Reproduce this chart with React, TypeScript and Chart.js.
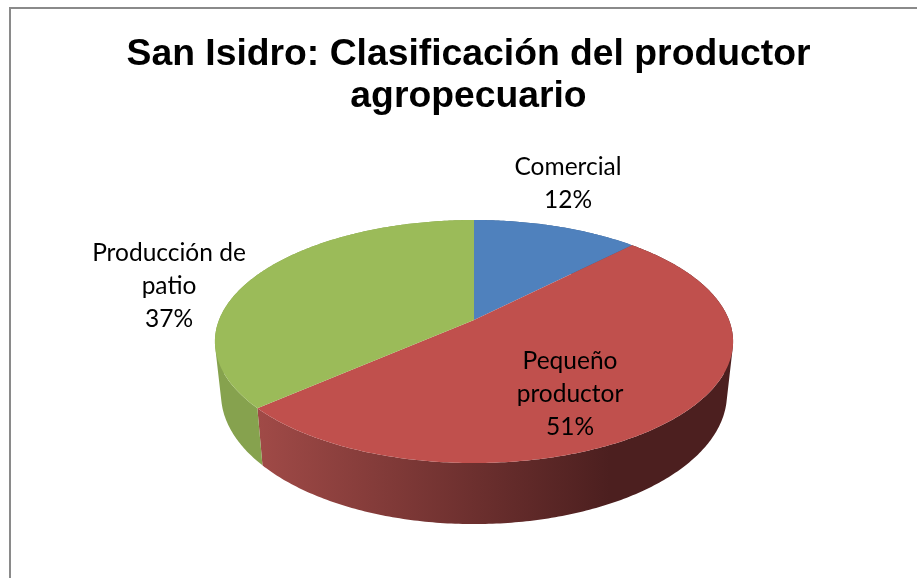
import React, { useEffect, useRef } from "react";
import { Chart, registerables } from "chart.js";

Chart.register(...registerables);

const categories = ["Comercial", "Pequeño productor", "Producción de patio"];
const values = [12.3, 51.2, 36.5];
const percentLabels = ["12%", "51%", "37%"];
const labelLines = [["Comercial"], ["Pequeño", "productor"], ["Producción de", "patio"]];
const titleLines = ["San Isidro: Clasificación del productor", "agropecuario"];
const topColors = ["#4f81bd", "#c0504d", "#9bbb59"];
const wallColors = ["#3a5f8c", "#8e3b39", "#86a24e"];

// Perspective projection of the pie's unit circle (layout only, not data)
const TILT = 0.177;
const TOP = { cx: 474, cy: 320, a: 255, b: 117.7 };
const BOTTOM = { cx: 474, cy: 371, a: 249, b: 126 };
const LABEL_POS = [
  { x: 568, y: 167.5 },
  { x: 570, y: 361.5 },
  { x: 169, y: 253.5 },
];

function project(p: typeof TOP, angle: number) {
  const x = Math.cos(angle);
  const y = Math.sin(angle);
  const d = 1 - TILT * y;
  return { x: p.cx + (p.a * x) / d, y: p.cy + (p.b * y) / d };
}

const pie3d = {
  id: "pie3d",
  beforeDraw(chart: any) {
    const ctx = chart.ctx;
    ctx.save();
    ctx.fillStyle = "#ffffff";
    ctx.fillRect(0, 0, chart.width, chart.height);
    ctx.strokeStyle = "#8a8a8a";
    ctx.lineWidth = 2;
    ctx.beginPath();
    ctx.moveTo(10, chart.height);
    ctx.lineTo(10, 8);
    ctx.lineTo(chart.width, 8);
    ctx.stroke();
    ctx.restore();
  },
  beforeDatasetsDraw(chart: any) {
    const ctx = chart.ctx;
    const arcs = chart.getDatasetMeta(0).data;
    ctx.save();
    // side wall: one path of consistently wound quads, so the silhouette stays smooth
    arcs.forEach((arc: any, i: number) => {
      const start = arc.startAngle;
      const end = arc.endAngle;
      const steps = Math.ceil((end - start) * 80);
      ctx.beginPath();
      for (let s = 0; s < steps; s++) {
        const a0 = start + ((end - start) * s) / steps;
        const a1 = start + ((end - start) * (s + 1)) / steps;
        let q = [project(TOP, a0), project(TOP, a1), project(BOTTOM, a1), project(BOTTOM, a0)];
        let area = 0;
        q.forEach((p, k) => {
          const n = q[(k + 1) % 4];
          area += p.x * n.y - n.x * p.y;
        });
        if (area < 0) q = q.reverse();
        ctx.moveTo(q[0].x, q[0].y);
        ctx.lineTo(q[1].x, q[1].y);
        ctx.lineTo(q[2].x, q[2].y);
        ctx.lineTo(q[3].x, q[3].y);
        ctx.closePath();
      }
      if (i === 1) {
        const g = ctx.createLinearGradient(258, 0, 610, 0);
        g.addColorStop(0, "rgb(160,74,71)");
        g.addColorStop(1, "rgb(76,31,31)");
        ctx.fillStyle = g;
      } else {
        ctx.fillStyle = wallColors[i];
      }
      ctx.fill("nonzero");
    });
    // top surface
    arcs.forEach((arc: any, i: number) => {
      const start = arc.startAngle;
      const end = arc.endAngle;
      const steps = Math.ceil((end - start) * 80);
      ctx.fillStyle = topColors[i];
      ctx.beginPath();
      ctx.moveTo(TOP.cx, TOP.cy);
      for (let s = 0; s <= steps; s++) {
        const p = project(TOP, start + ((end - start) * s) / steps);
        ctx.lineTo(p.x, p.y);
      }
      ctx.closePath();
      ctx.fill();
    });
    ctx.restore();
    return false;
  },
  afterDraw(chart: any) {
    const ctx = chart.ctx;
    ctx.save();
    ctx.fillStyle = "#000000";
    ctx.font = "24.5px Lato";
    ctx.textAlign = "center";
    ctx.textBaseline = "middle";
    labelLines.forEach((lines, i) => {
      const all = [...lines, percentLabels[i]];
      all.forEach((line, j) => {
        ctx.fillText(line, LABEL_POS[i].x, LABEL_POS[i].y + j * 33);
      });
    });
    ctx.restore();
  },
};

export default function App() {
  const ref = useRef<HTMLCanvasElement>(null);
  useEffect(() => {
    const chart = new Chart(ref.current!, {
      type: "pie",
      data: {
        labels: categories,
        datasets: [{ data: values, backgroundColor: topColors, borderWidth: 0 }],
      },
      options: {
        animation: false,
        responsive: false,
        events: [],
        layout: { padding: { left: 20, right: 0 } },
        plugins: {
          legend: { display: false },
          tooltip: { enabled: false },
          title: {
            display: true,
            text: titleLines,
            color: "#000000",
            align: "center",
            font: { family: "'Liberation Sans'", size: 37.3, weight: "bold", lineHeight: 1.125 },
            padding: { top: 34, bottom: 10 },
          },
        },
      },
      plugins: [pie3d],
    } as any);
    return () => chart.destroy();
  }, []);
  return (
    <canvas
      ref={ref}
      width={917}
      height={578}
      style={{ position: "fixed", left: 0, top: 0, width: 917, height: 578, display: "block" }}
    />
  );
}
